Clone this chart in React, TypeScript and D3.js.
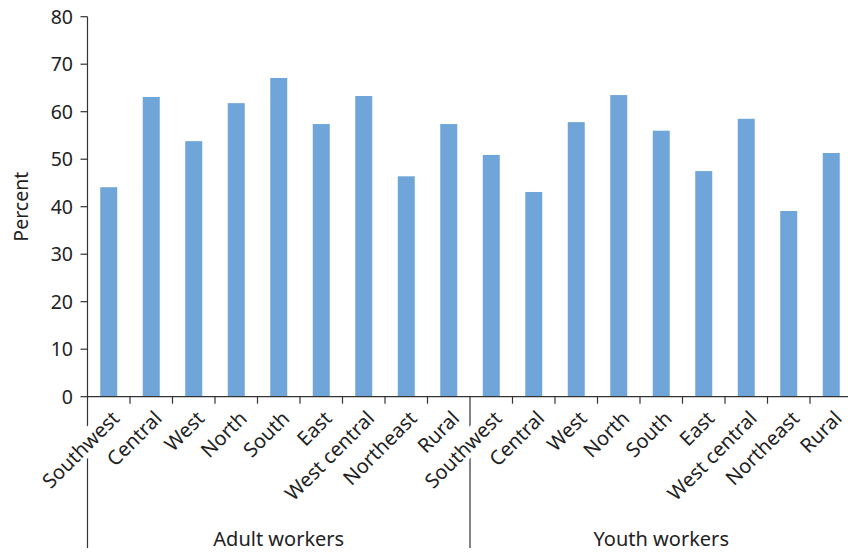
import React, { useLayoutEffect, useRef, useState } from "react";
import * as d3 from "d3";

const groups = ["Adult workers", "Youth workers"];
const regions = ["Southwest", "Central", "West", "North", "South", "East", "West central", "Northeast", "Rural"];
const adultValues = [44.1, 63.1, 53.8, 61.8, 67.1, 57.4, 63.3, 46.4, 57.4];
const youthValues = [50.9, 43.1, 57.8, 63.5, 56.0, 47.5, 58.5, 39.1, 51.3];
const yTicks = [0, 10, 20, 30, 40, 50, 60, 70, 80];

const W = 848, H = 552;
const left = 87.5, top = 16.7, bottom = 396.7;
const bandW = 42.5;
const FONT = "'Noto Sans', 'Open Sans', sans-serif";
const TEXT = "#222";
const AXIS = "#333";
const BAR = "#6fa5d8";

export default function App() {
  const data = [
    ...regions.map((r, i) => ({ key: `a${i}`, label: r, value: adultValues[i], group: 0 })),
    ...regions.map((r, i) => ({ key: `y${i}`, label: r, value: youthValues[i], group: 1 })),
  ];
  const xb = d3.scaleBand<string>().domain(data.map(d => d.key)).range([left, left + bandW * data.length]);
  const y = d3.scaleLinear().domain([0, 80]).range([bottom, top]);
  const bw = 17;
  const textRefs = useRef<(SVGTextElement | null)[]>([]);
  const [boxes, setBoxes] = useState<{ x: number; y: number; width: number; height: number }[]>([]);
  useLayoutEffect(() => {
    setBoxes(textRefs.current.map(t => {
      if (!t) return { x: 0, y: 0, width: 0, height: 0 };
      const b = t.getBBox();
      return { x: b.x, y: b.y + 2, width: b.width, height: b.height - 4 };
    }));
  }, []);
  return (
    <svg width={W} height={H} style={{ position: "absolute", left: 0, top: 0 }}>
      {data.map(d => {
        const cx = xb(d.key)! + xb.bandwidth() / 2;
        return <rect key={d.key} x={cx - bw / 2} y={y(d.value)} width={bw} height={y(0) - y(d.value)} fill={BAR} />;
      })}
      {/* y axis */}
      <line x1={left} x2={left} y1={top} y2={548} stroke={AXIS} strokeWidth={1.2} />
      {yTicks.map(t => (
        <g key={t}>
          <line x1={left - 7} x2={left} y1={y(t)} y2={y(t)} stroke={AXIS} strokeWidth={1.2} />
          <text x={73} y={y(t)} dy="0.36em" textAnchor="end" fontFamily={FONT} fontSize={19.5} fill={TEXT}>{t}</text>
        </g>
      ))}
      {/* x axis */}
      <line x1={left} x2={W} y1={bottom} y2={bottom} stroke={AXIS} strokeWidth={1.2} />
      {data.map((d, i) => i === 0 ? null : (
        <line key={"t" + d.key} x1={xb(d.key)!} x2={xb(d.key)!} y1={bottom} y2={i === 9 ? 548 : bottom + 7} stroke={AXIS} strokeWidth={1.2} />
      ))}
      {data.map((d, i) => {
        const cx = xb(d.key)! + xb.bandwidth() / 2;
        const b = boxes[i];
        return (
          <g key={"l" + d.key} transform={`translate(${cx + 7},${bottom + 18}) rotate(-45)`}>
            {b && <rect x={b.x} y={b.y} width={b.width} height={b.height} fill="#fff" />}
            <text ref={el => { textRefs.current[i] = el; }} dy="0.35em" textAnchor="end" fontFamily={FONT} fontSize={20} fill={TEXT}>{d.label}</text>
          </g>
        );
      })}
      {groups.map((g, gi) => {
        const x0 = left + gi * 9 * bandW;
        return <text key={g} x={x0 + 4.5 * bandW} y={546} textAnchor="middle" fontFamily={FONT} fontSize={20} fill={TEXT}>{g}</text>;
      })}
      <text transform={`translate(28,${(top + bottom) / 2}) rotate(-90)`} textAnchor="middle" fontFamily={FONT} fontSize={19.5} fill={TEXT}>Percent</text>
    </svg>
  );
}
